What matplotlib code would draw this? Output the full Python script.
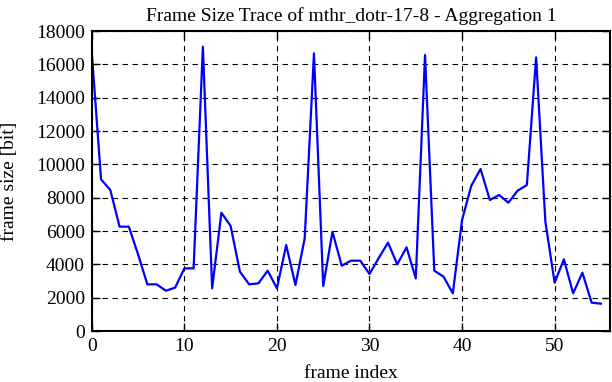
import matplotlib
matplotlib.use('Agg')
import matplotlib.pyplot as plt

frame_index = list(range(56))
frame_size = [16700, 9100, 8460, 6260, 6260, 4600, 2800, 2800, 2420, 2600,
              3760, 3760, 17060, 2560, 7100, 6300, 3560, 2800, 2860, 3620,
              2560, 5160, 2760, 5560, 16660, 2700, 5950, 3920, 4220, 4220,
              3420, 4380, 5300, 4000, 5020, 3160, 16560, 3620, 3260, 2260,
              6660, 8720, 9720, 7860, 8160, 7700, 8420, 8760, 16420, 6560,
              2900, 4300, 2260, 3500, 1700, 1640]

plt.rcParams['font.family'] = ['Liberation Serif', 'DejaVu Serif']
plt.rcParams['font.size'] = 14

fig = plt.figure(figsize=(6.12, 3.82), dpi=100)
ax = fig.add_axes([0.150, 0.1335, 0.847, 0.7853])
ax.plot(frame_index, frame_size, color='#0000ff', linewidth=1.6)

ax.set_xlim(0, 56)
ax.set_ylim(0, 18000)
ax.set_xticks(range(0, 51, 10))
ax.set_yticks(range(0, 18001, 2000))
ax.grid(True, color='black', linestyle=(0, (5, 4)), linewidth=0.8)
ax.tick_params(direction='in', top=True, right=True, length=6, width=1,
               labelsize=14, pad=5)
for s in ax.spines.values():
    s.set_linewidth(1.5)

ax.set_title('Frame Size Trace of mthr_dotr-17-8 - Aggregation 1', fontsize=14, pad=7)
ax.set_xlabel('frame index', fontsize=14)
ax.set_ylabel('frame size [bit]', fontsize=14)
ax.xaxis.set_label_coords(0.5, -0.113)
ax.yaxis.set_label_coords(-0.143, 0.5)

fig.savefig('out.png', dpi=100)
